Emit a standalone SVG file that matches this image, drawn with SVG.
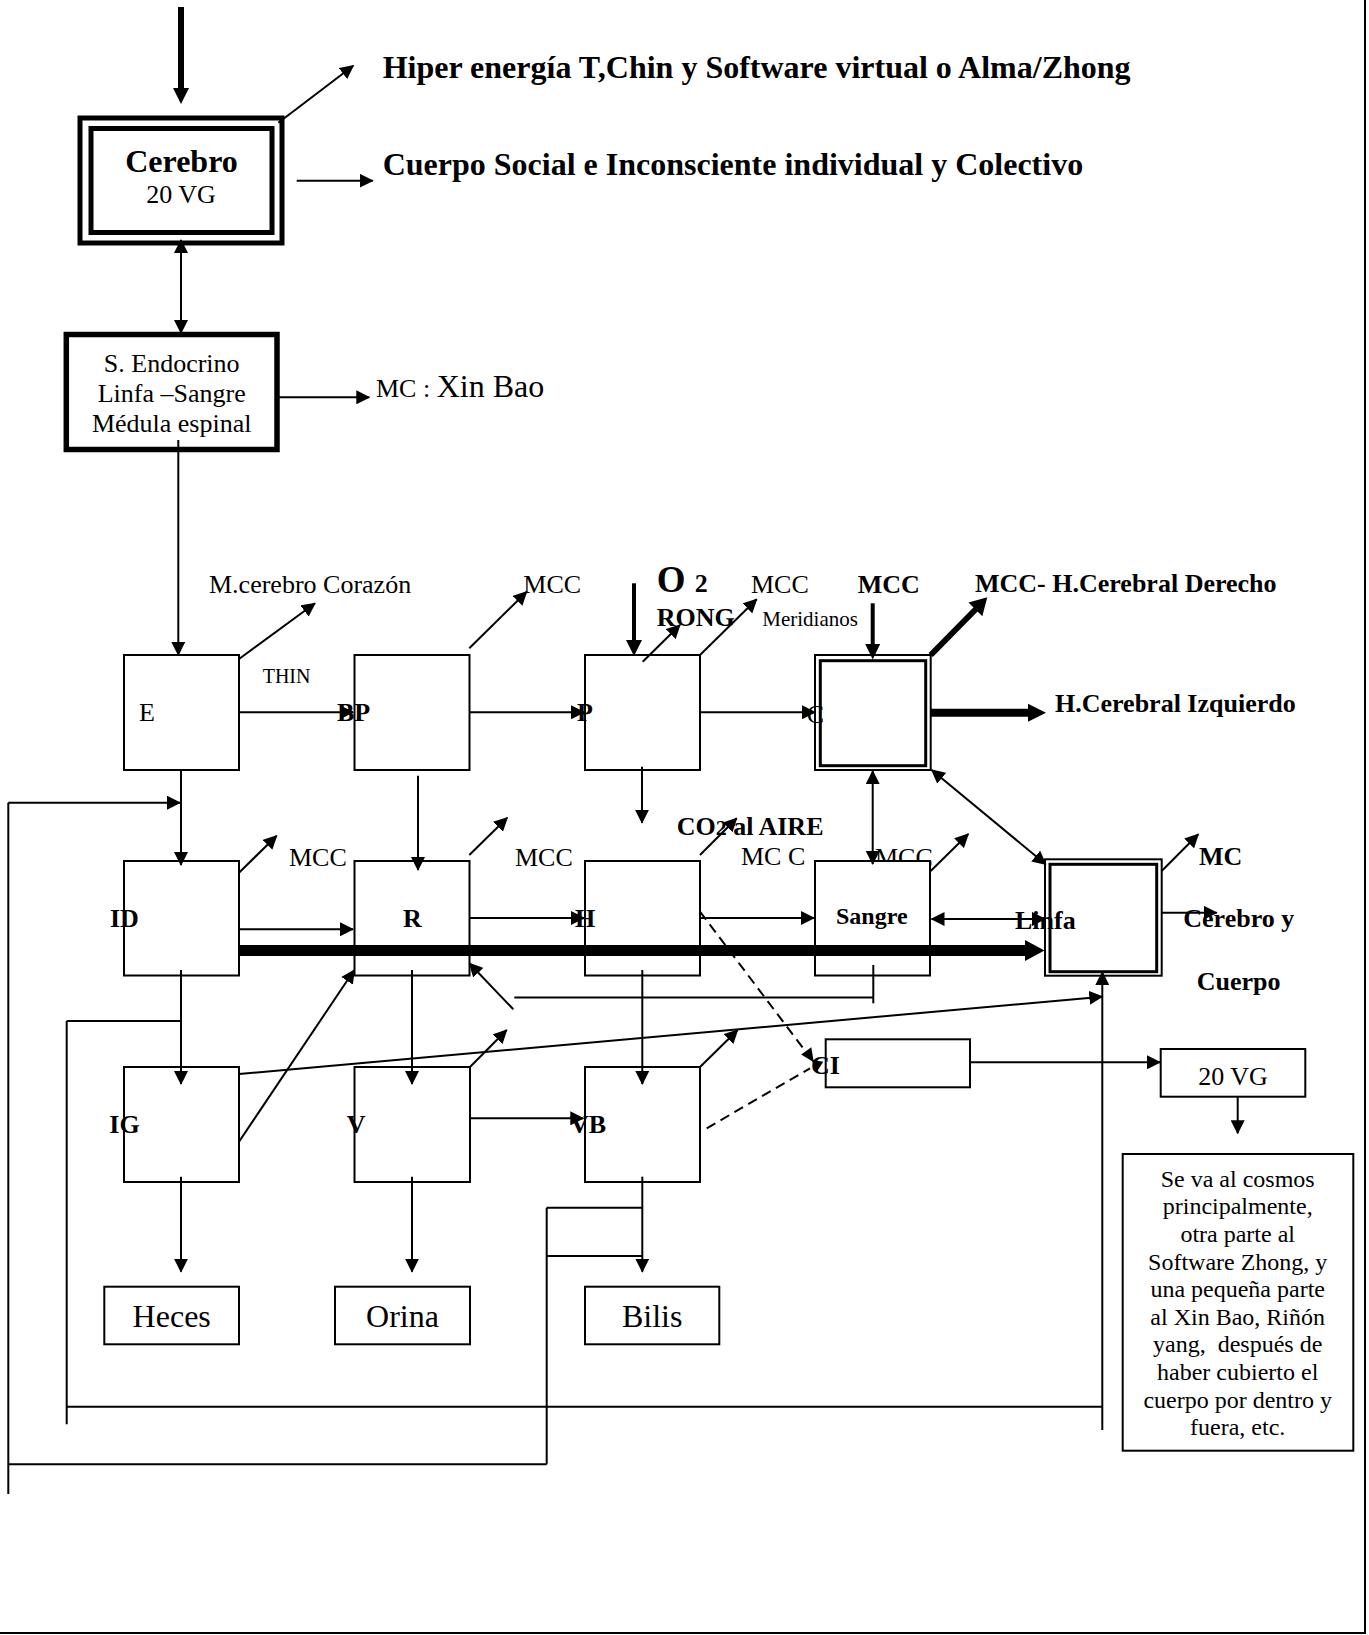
<svg xmlns="http://www.w3.org/2000/svg" width="1369" height="1635" viewBox="0 0 1369 1635">
<style>
  text { font-family: "Liberation Serif", "Times New Roman", serif; fill: #000; }
  .b { font-weight: bold; }
  .f26 { font-size: 26px; }
  .f32 { font-size: 32px; }
  .f24 { font-size: 24px; }
  .f21 { font-size: 21px; }
  .f20 { font-size: 20px; }
  .mid { text-anchor: middle; }
  .box { fill: #fff; stroke: #000; stroke-width: 2; }
  .dbo { fill: #fff; stroke: #000; stroke-width: 2; }
  .dbi { fill: none; stroke: #000; stroke-width: 3; }
  .ln { fill: none; stroke: #000; stroke-width: 2; }
  .ar { fill: none; stroke: #000; stroke-width: 2; marker-end: url(#ah); }
  .da { fill: none; stroke: #000; stroke-width: 2; marker-start: url(#ah); marker-end: url(#ah); }
  .dash { fill: none; stroke: #000; stroke-width: 2; stroke-dasharray: 10 6; }
  .hd { fill: #000; stroke: none; }
</style>
<defs>
  <marker id="ah" markerUnits="userSpaceOnUse" markerWidth="14" markerHeight="14" refX="13" refY="7" orient="auto-start-reverse" viewBox="0 0 14 14">
    <path d="M0,0 L14,7 L0,14 z" fill="#000"/>
  </marker>
</defs>

<!-- page frame -->
<g id="frame">
  <line class="ln" x1="0" y1="1633" x2="1366" y2="1633" stroke-width="2.5"/>
  <line class="ln" x1="1365" y1="0" x2="1365" y2="1633" stroke-width="2.5"/>
</g>

<!-- label partially hidden behind Sangre box -->
<text class="f26" x="875" y="866">MCC</text>

<!-- nodes -->
<g id="cerebro">
  <rect x="80" y="118" width="202" height="125" fill="#fff" stroke="#000" stroke-width="5"/>
  <rect x="91" y="128.5" width="181" height="104" fill="none" stroke="#000" stroke-width="5"/>
  <text class="b f32 mid" x="181.5" y="171.7">Cerebro</text>
  <text class="f26 mid" x="181" y="202.7">20 VG</text>
</g>
<g id="endocrino">
  <rect x="66.3" y="334.5" width="210.7" height="115" fill="#fff" stroke="#000" stroke-width="5.5"/>
  <text class="f26 mid" x="171.7" y="371.7">S. Endocrino</text>
  <text class="f26 mid" x="171.7" y="402.3">Linfa –Sangre</text>
  <text class="f26 mid" x="171.7" y="432.3">Médula espinal</text>
</g>
<g id="E"><rect class="box" x="124" y="655" width="115" height="115"/><text class="f26" x="139" y="721">E</text></g>
<g id="BP"><rect class="box" x="354.5" y="655" width="115" height="115"/></g>
<g id="P"><rect class="box" x="585" y="655" width="115" height="115"/></g>
<g id="C">
  <rect class="dbo" x="815" y="655" width="115.7" height="115"/>
  <rect class="dbi" x="820.3" y="660.7" width="105.4" height="105"/>
</g>
<g id="ID"><rect class="box" x="124" y="861" width="115" height="114.5"/></g>
<g id="R"><rect class="box" x="354.5" y="861" width="115" height="114.5"/></g>
<g id="H"><rect class="box" x="585" y="861" width="115" height="114.5"/></g>
<g id="Sangre"><rect class="box" x="815" y="861" width="115" height="114.5"/><text class="b f24" x="836" y="924">Sangre</text></g>
<g id="Linfa">
  <rect class="dbo" x="1045" y="859.3" width="116.7" height="116.4"/>
  <rect class="dbi" x="1050" y="864.3" width="106.7" height="107.4"/>
</g>
<g id="IG"><rect class="box" x="124" y="1067" width="115" height="115"/></g>
<g id="V"><rect class="box" x="354.5" y="1067" width="115.5" height="115"/></g>
<g id="VB"><rect class="box" x="585" y="1067" width="115" height="115"/></g>
<g id="CI"><rect class="box" x="825.7" y="1039.3" width="144.3" height="48"/></g>
<g id="VG20"><rect class="box" x="1160.7" y="1049" width="144.6" height="47.7"/><text class="f26 mid" x="1233" y="1085">20 VG</text></g>
<g id="nota">
  <rect class="box" x="1122.7" y="1154" width="230.6" height="296.7"/>
  <g class="f24 mid">
    <text x="1237.7" y="1186.7">Se va al cosmos</text>
    <text x="1237.7" y="1214.3">principalmente,</text>
    <text x="1237.7" y="1241.9">otra parte al</text>
    <text x="1237.7" y="1269.5">Software Zhong, y</text>
    <text x="1237.7" y="1297.1">una pequeña parte</text>
    <text x="1237.7" y="1324.7">al Xin Bao, Riñón</text>
    <text x="1237.7" y="1352.3" xml:space="preserve">yang,  después de</text>
    <text x="1237.7" y="1379.9">haber cubierto el</text>
    <text x="1237.7" y="1407.5">cuerpo por dentro y</text>
    <text x="1237.7" y="1435.1">fuera, etc.</text>
  </g>
</g>
<g id="Heces"><rect class="box" x="104.3" y="1286.7" width="134.7" height="57.6"/><text class="f32 mid" x="171.7" y="1326.7">Heces</text></g>
<g id="Orina"><rect class="box" x="335" y="1286.7" width="135" height="57.6"/><text class="f32 mid" x="402.5" y="1326.7">Orina</text></g>
<g id="Bilis"><rect class="box" x="585" y="1286.7" width="134.3" height="57.6"/><text class="f32 mid" x="652.2" y="1326.7">Bilis</text></g>

<!-- connectors -->
<g id="connectors">
  <!-- top -->
  <line x1="181" y1="7" x2="181" y2="89" stroke="#000" stroke-width="6"/>
  <polygon class="hd" points="173,88 189,88 181,104"/>
  <line class="ar" x1="278.3" y1="122.7" x2="353.3" y2="65.7"/>
  <line class="ar" x1="296.7" y1="180.7" x2="372.7" y2="180.7"/>
  <line class="da" x1="181" y1="240" x2="181" y2="333"/>
  <line class="ar" x1="278.3" y1="397.3" x2="369.3" y2="397.3"/>
  <line class="ar" x1="178.3" y1="440" x2="178.3" y2="655"/>

  <!-- row 1 -->
  <line class="ar" x1="239" y1="659" x2="315" y2="603.3"/>
  <line class="ar" x1="239" y1="712.3" x2="353" y2="712.3"/>
  <line class="ar" x1="469.3" y1="648.3" x2="526.7" y2="591.7"/>
  <line class="ar" x1="469.5" y1="712.3" x2="584" y2="712.3"/>
  <line class="ar" x1="418" y1="775.7" x2="418" y2="870"/>
  <line x1="634" y1="583.3" x2="634" y2="641" stroke="#000" stroke-width="4"/>
  <polygon class="hd" points="626,640 642,640 634,656"/>
  <line class="ar" x1="642.7" y1="661.7" x2="680" y2="625"/>
  <line class="ar" x1="700" y1="655" x2="756.7" y2="599.3"/>
  <line class="ar" x1="700" y1="712.3" x2="815" y2="712.3"/>
  <line class="ar" x1="642" y1="766.7" x2="642" y2="822.7"/>
  <line x1="872.7" y1="603.3" x2="872.7" y2="646" stroke="#000" stroke-width="4"/>
  <polygon class="hd" points="865.2,644 880.2,644 872.7,659.5"/>
  <line x1="930.7" y1="655" x2="977" y2="608" stroke="#000" stroke-width="6"/>
  <polygon class="hd" points="987.3,597.3 982.3,616.2 968.5,602.6"/>
  <line x1="930.7" y1="712.7" x2="1029" y2="712.7" stroke="#000" stroke-width="8"/>
  <polygon class="hd" points="1028,703.7 1028,721.7 1046,712.7"/>
  <line class="da" x1="872.7" y1="771" x2="872.7" y2="864"/>
  <line class="da" x1="931.7" y1="770" x2="1045.7" y2="864.3"/>

  <!-- row 2 -->
  <line class="ar" x1="181" y1="770" x2="181" y2="865"/>
  <line class="ar" x1="8.3" y1="802.7" x2="180" y2="802.7"/>
  <line class="ar" x1="239" y1="872.7" x2="276.7" y2="835.7"/>
  <line class="ar" x1="239" y1="929.3" x2="353" y2="929.3"/>
  <line class="ar" x1="469.3" y1="855" x2="507.3" y2="817.7"/>
  <line class="ar" x1="469.5" y1="918" x2="584" y2="918"/>
  <line class="ar" x1="700" y1="855" x2="736.7" y2="818.3"/>
  <line class="ar" x1="700" y1="918" x2="814" y2="918"/>
  <line class="ar" x1="930.7" y1="871" x2="968.3" y2="834"/>
  <line class="da" x1="931.5" y1="919" x2="1045" y2="919"/>
  <line class="ar" x1="1161.7" y1="871" x2="1198.3" y2="834.3"/>
  <line class="ar" x1="1161.7" y1="912.7" x2="1216.7" y2="912.7"/>
  <line x1="239" y1="950.5" x2="1026" y2="950.5" stroke="#000" stroke-width="11"/>
  <polygon class="hd" points="1025,940 1025,961 1044.5,950.5"/>

  <!-- row 3 -->
  <line class="ar" x1="181" y1="970" x2="181" y2="1084"/>
  <line class="ln" x1="66.7" y1="1021" x2="181" y2="1021"/>
  <line class="ar" x1="239" y1="1141.7" x2="354.3" y2="970"/>
  <line class="ar" x1="239" y1="1074" x2="1102.3" y2="996.7"/>
  <line class="ar" x1="412" y1="970" x2="412" y2="1084"/>
  <line class="ar" x1="470" y1="1067" x2="506.7" y2="1030"/>
  <line class="ar" x1="470" y1="1118.3" x2="583.3" y2="1118.3"/>
  <line class="ar" x1="642.3" y1="970" x2="642.3" y2="1084"/>
  <line class="ar" x1="700" y1="1067" x2="737.7" y2="1030"/>
  <line class="ar" x1="513.3" y1="1009.3" x2="469.3" y2="963.3"/>
  <line class="ln" x1="514.3" y1="997.5" x2="873.3" y2="997.5"/>
  <line class="ln" x1="873.3" y1="965" x2="873.3" y2="1003.3"/>
  <line class="dash" x1="700" y1="911.7" x2="811" y2="1058.5"/>
  <polygon class="hd" points="813.8,1062.3 801.2,1054.6 811.3,1047.2"/>
  <line class="dash" x1="706.7" y1="1128.3" x2="810" y2="1068.3"/>
  <polygon class="hd" points="811.7,1060 823.3,1061.7 816.7,1072"/>
  <line class="ar" x1="970" y1="1062.3" x2="1160" y2="1062.3"/>
  <line class="ar" x1="1237.7" y1="1096.7" x2="1237.7" y2="1133.3"/>

  <!-- to outputs -->
  <line class="ar" x1="181" y1="1176.7" x2="181" y2="1271.7"/>
  <line class="ar" x1="412" y1="1176.7" x2="412" y2="1271.7"/>
  <line class="ar" x1="642.3" y1="1176.7" x2="642.3" y2="1271.7"/>

  <!-- return loops -->
  <line class="ln" x1="8.3" y1="802.7" x2="8.3" y2="1494"/>
  <line class="ln" x1="8.3" y1="1464.3" x2="546.7" y2="1464.3"/>
  <line class="ln" x1="546.7" y1="1464.3" x2="546.7" y2="1207.7"/>
  <line class="ln" x1="546.7" y1="1207.7" x2="642.3" y2="1207.7"/>
  <line class="ln" x1="546.7" y1="1256" x2="642.3" y2="1256"/>
  <line class="ln" x1="66.7" y1="1021" x2="66.7" y2="1424.3"/>
  <line class="ln" x1="66.7" y1="1406.7" x2="1102.3" y2="1406.7"/>
  <line class="ar" x1="1102.3" y1="1430" x2="1102.3" y2="972"/>
</g>

<!-- labels -->
<g id="labels">
  <text class="b f32" x="382.7" y="77.7">Hiper energía T,Chin y Software virtual o Alma/Zhong</text>
  <text class="b f32" x="382.7" y="175">Cuerpo Social e Inconsciente individual y Colectivo</text>
  <text class="f26" x="376" y="397">MC : <tspan class="f32">Xin Bao</tspan></text>
  <text class="f26" x="209" y="593">M.cerebro Corazón</text>
  <text class="f26" x="523.3" y="593">MCC</text>
  <text class="b" x="656.7" y="592.3" style="font-size:37px">O <tspan style="font-size:26px">2</tspan></text>
  <text class="b f26" x="656.7" y="626">RONG</text>
  <text class="f26" x="751" y="592.7">MCC</text>
  <text class="f21" x="762.3" y="626">Meridianos</text>
  <text class="b f26" x="857.7" y="592.7">MCC</text>
  <text class="b f26" x="975" y="592.3">MCC- H.Cerebral Derecho</text>
  <text class="b f26" x="1055" y="712">H.Cerebral Izquierdo</text>
  <text class="f20" x="262.7" y="682.7">THIN</text>
  <text class="b f26" x="337" y="721">BP</text>
  <text class="b f26" x="577" y="721">P</text>
  <text class="f26" x="806.7" y="723">C</text>
  <text class="b f26" x="676.7" y="835">CO<tspan style="font-size:22px">2</tspan> al AIRE</text>
  <text class="f26" x="289" y="866">MCC</text>
  <text class="f26" x="515" y="866">MCC</text>
  <text class="f26" x="741" y="865">MC C</text>
  <text class="b f26" x="1199" y="865">MC</text>
  <text class="b f26" x="110" y="926.7">ID</text>
  <text class="b f26" x="403" y="926.7">R</text>
  <text class="b f26" x="575" y="926.7">H</text>
  <text class="b f26" x="1015" y="929.3">Linfa</text>
  <text class="b f26" x="1183.3" y="926.7">Cerebro y</text>
  <text class="b f26" x="1196.7" y="990">Cuerpo</text>
  <text class="b f26" x="109.3" y="1133.3">IG</text>
  <text class="b f26" x="346.7" y="1133">V</text>
  <text class="b f26" x="570" y="1133">VB</text>
  <text class="b f26" x="811" y="1074">CI</text>
</g>
</svg>
